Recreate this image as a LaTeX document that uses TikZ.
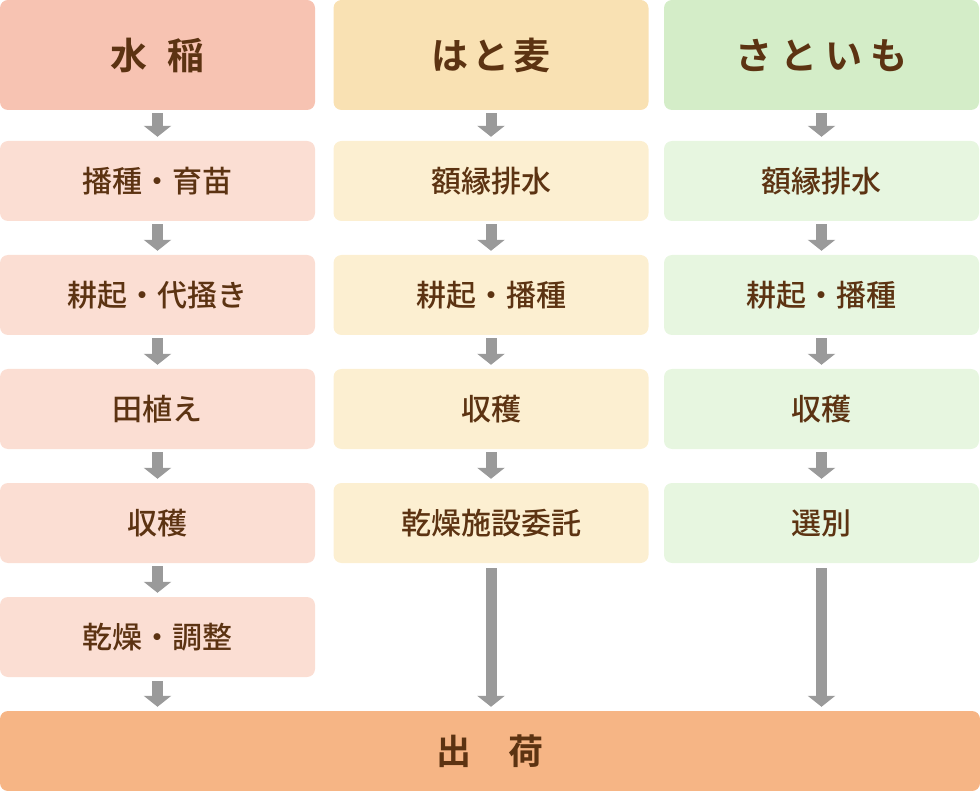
\documentclass[tikz,border=0pt]{standalone}
\usepackage{fontspec}
\usetikzlibrary{arrows.meta}
\newfontfamily\jpfont{Noto Sans CJK JP}[BoldFont={* Bold}]
\newfontfamily\jpmed{Noto Sans CJK JP Medium}

\definecolor{inebg}{HTML}{F7C3B2}
\definecolor{inelt}{HTML}{FBDED3}
\definecolor{hatobg}{HTML}{F9E1B3}
\definecolor{hatolt}{HTML}{FCEFD1}
\definecolor{satobg}{HTML}{D4EDC8}
\definecolor{satolt}{HTML}{E7F6E0}
\definecolor{shukabg}{HTML}{F6B585}
\definecolor{txtbrown}{HTML}{5C3312}
\definecolor{arrgray}{HTML}{9A9A9A}

\tikzset{
  head/.style={rounded corners=8pt, minimum width=315pt, minimum height=110pt,
    inner sep=0pt, text=txtbrown, font=\jpfont\bfseries\fontsize{37}{37}\selectfont},
  stepbox/.style={rounded corners=8pt, minimum width=315pt, minimum height=80pt,
    inner sep=0pt, text=txtbrown, font=\jpmed\fontsize{30}{30}\selectfont},
  flow/.style={arrgray, line width=11pt,
    -{Triangle[width=27pt,length=11pt]}},
}

\begin{document}
\begin{tikzpicture}[x=1pt,y=-1pt]
\useasboundingbox (0,0) rectangle (980,791);

% 水稲
\node[head, fill=inebg] (ine) at (157.5,55) {水\hspace{20pt}稲};
\node[stepbox, fill=inelt] (ine1) at (157.5,181) {播種・育苗};
\node[stepbox, fill=inelt] (ine2) at (157.5,295) {耕起・代掻き};
\node[stepbox, fill=inelt] (ine3) at (157.5,409) {田植え};
\node[stepbox, fill=inelt] (ine4) at (157.5,523) {収穫};
\node[stepbox, fill=inelt] (ine5) at (157.5,637) {乾燥・調整};

% はと麦
\node[head, fill=hatobg] (hato) at (491,55) {は\hspace{4pt}と\hspace{4pt}麦};
\node[stepbox, fill=hatolt] (hato1) at (491,181) {額縁排水};
\node[stepbox, fill=hatolt] (hato2) at (491,295) {耕起・播種};
\node[stepbox, fill=hatolt] (hato3) at (491,409) {収穫};
\node[stepbox, fill=hatolt] (hato4) at (491,523) {乾燥施設委託};

% さといも
\node[head, fill=satobg] (sato) at (821.5,55) {さ\hspace{8pt}と\hspace{8pt}い\hspace{8pt}も};
\node[stepbox, fill=satolt] (sato1) at (821.5,181) {額縁排水};
\node[stepbox, fill=satolt] (sato2) at (821.5,295) {耕起・播種};
\node[stepbox, fill=satolt] (sato3) at (821.5,409) {収穫};
\node[stepbox, fill=satolt] (sato4) at (821.5,523) {選別};

% 出荷
\node[stepbox, fill=shukabg, minimum width=980pt,
  font=\jpfont\bfseries\fontsize{35}{35}\selectfont] (shuka) at (490,751)
  {出\hspace{38pt}荷};

% arrows
\draw[flow, shorten <=3pt, shorten >=4pt] (ine) -- (ine1);
\draw[flow, shorten <=3pt, shorten >=4pt] (ine1) -- (ine2);
\draw[flow, shorten <=3pt, shorten >=4pt] (ine2) -- (ine3);
\draw[flow, shorten <=3pt, shorten >=4pt] (ine3) -- (ine4);
\draw[flow, shorten <=3pt, shorten >=4pt] (ine4) -- (ine5);
\draw[flow, shorten <=4pt, shorten >=4pt] (ine5) -- (ine5 |- shuka.north);

\draw[flow, shorten <=3pt, shorten >=4pt] (hato) -- (hato1);
\draw[flow, shorten <=3pt, shorten >=4pt] (hato1) -- (hato2);
\draw[flow, shorten <=3pt, shorten >=4pt] (hato2) -- (hato3);
\draw[flow, shorten <=3pt, shorten >=4pt] (hato3) -- (hato4);
\draw[flow, shorten <=5pt, shorten >=4pt] (hato4) -- (hato4 |- shuka.north);

\draw[flow, shorten <=3pt, shorten >=4pt] (sato) -- (sato1);
\draw[flow, shorten <=3pt, shorten >=4pt] (sato1) -- (sato2);
\draw[flow, shorten <=3pt, shorten >=4pt] (sato2) -- (sato3);
\draw[flow, shorten <=3pt, shorten >=4pt] (sato3) -- (sato4);
\draw[flow, shorten <=5pt, shorten >=4pt] (sato4) -- (sato4 |- shuka.north);
\end{tikzpicture}
\end{document}
